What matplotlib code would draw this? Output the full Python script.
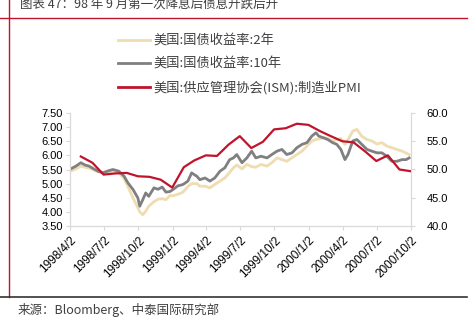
import matplotlib
matplotlib.use("Agg")
import matplotlib.pyplot as plt
from matplotlib.lines import Line2D
import pandas as pd

plt.rcParams['font.family'] = ['Liberation Sans', 'Noto Sans CJK SC', 'DejaVu Sans']

# 国债收益率（约每两周读取一次）
dates = ['1998-04-05', '1998-04-18', '1998-05-01', '1998-05-12', '1998-05-23', '1998-06-05',
         '1998-06-16', '1998-06-29', '1998-07-13', '1998-07-26', '1998-08-11', '1998-08-25',
         '1998-09-04', '1998-09-18', '1998-10-01', '1998-10-06', '1998-10-14', '1998-10-22',
         '1998-10-30', '1998-11-13', '1998-11-24', '1998-12-05', '1998-12-15', '1998-12-26',
         '1999-01-03', '1999-01-16', '1999-01-30', '1999-02-12', '1999-02-22', '1999-03-08',
         '1999-03-16', '1999-03-30', '1999-04-12', '1999-04-25', '1999-05-09', '1999-05-22',
         '1999-06-04', '1999-06-14', '1999-06-23', '1999-07-07', '1999-07-20', '1999-08-02',
         '1999-08-13', '1999-08-27', '1999-09-12', '1999-09-25', '1999-10-09', '1999-10-22',
         '1999-11-04', '1999-11-18', '1999-12-01', '1999-12-15', '1999-12-28', '2000-01-10',
         '2000-01-21', '2000-01-29', '2000-02-11', '2000-02-22', '2000-03-06', '2000-03-17',
         '2000-03-28', '2000-04-08', '2000-04-16', '2000-04-29', '2000-05-10', '2000-05-23',
         '2000-06-06', '2000-06-19', '2000-07-03', '2000-07-16', '2000-07-29', '2000-08-12',
         '2000-08-25', '2000-09-08', '2000-09-19', '2000-09-27']

y10 = [5.53, 5.62, 5.74, 5.66, 5.62, 5.52, 5.44, 5.38, 5.45, 5.50, 5.44, 5.26,
       5.03, 4.79, 4.49, 4.20, 4.43, 4.67, 4.55, 4.85, 4.80, 4.88, 4.70, 4.72,
       4.79, 4.92, 4.97, 5.09, 5.38, 5.26, 5.14, 5.20, 5.09, 5.20, 5.44, 5.56,
       5.85, 5.91, 6.03, 5.74, 5.91, 6.15, 5.91, 5.97, 5.91, 6.03, 6.15, 6.21,
       6.03, 6.09, 6.27, 6.39, 6.45, 6.68, 6.80, 6.68, 6.62, 6.56, 6.45, 6.39,
       6.21, 5.85, 6.03, 6.51, 6.56, 6.39, 6.21, 6.15, 6.09, 6.09, 5.97, 5.79,
       5.79, 5.85, 5.85, 5.91]

y2 = [5.45, 5.52, 5.62, 5.58, 5.55, 5.48, 5.42, 5.40, 5.42, 5.44, 5.38, 5.18,
      4.90, 4.49, 4.14, 4.00, 3.90, 4.02, 4.20, 4.36, 4.45, 4.47, 4.43, 4.58,
      4.57, 4.62, 4.70, 4.90, 5.00, 5.00, 4.91, 4.91, 4.85, 4.97, 5.09, 5.20,
      5.40, 5.56, 5.66, 5.52, 5.68, 5.60, 5.58, 5.68, 5.62, 5.74, 5.91, 5.85,
      5.79, 5.91, 6.03, 6.15, 6.33, 6.51, 6.56, 6.58, 6.62, 6.60, 6.50, 6.56,
      6.60, 6.39, 6.55, 6.86, 6.92, 6.68, 6.56, 6.51, 6.40, 6.45, 6.33, 6.27,
      6.21, 6.15, 6.08, 6.03]

# ISM 制造业PMI（月度）
pmi_dates = pd.date_range('1998-05-01', '2000-10-01', freq='MS')
pmi = [52.3, 51.2, 49.1, 49.3, 49.4, 48.8, 48.7, 48.2,
       46.8, 50.4, 51.6, 52.5, 52.4, 54.4, 55.9, 53.8, 54.9, 57.1, 57.3, 58.1,
       57.9, 56.8, 55.9, 55.0, 54.8, 53.2, 51.5, 52.5, 50.0, 49.7]

tick_dates = ['1998-04-02', '1998-07-02', '1998-10-02', '1999-01-02', '1999-04-02', '1999-07-02',
              '1999-10-02', '2000-01-02', '2000-04-02', '2000-07-02', '2000-10-02']
tick_labels = ['1998/4/2', '1998/7/2', '1998/10/2', '1999/1/2', '1999/4/2', '1999/7/2',
               '1999/10/2', '2000/1/2', '2000/4/2', '2000/7/2', '2000/10/2']

labels = ['美国:国债收益率:2年', '美国:国债收益率:10年', '美国:供应管理协会(ISM):制造业PMI']

c2 = '#efdcb0'
c10 = '#808080'
cred = '#c0142c'
gridc = '#d9d9d9'
txt = '#404040'

W, H = 477, 323
fig = plt.figure(figsize=(4.77, 3.23), dpi=100)
ax = fig.add_axes([70 / W, 1 - 226 / H, 341 / W, 113 / H])
ax2 = ax.twinx()

d = pd.to_datetime(dates)
ax.plot(d, y2, color=c2, lw=2.0)
ax.plot(d, y10, color=c10, lw=2.0)
ax2.plot(pmi_dates, pmi, color=cred, lw=1.6)

ax.set_ylim(3.5, 7.5)
ax.set_yticks([3.5 + 0.5 * i for i in range(9)])
ax.set_yticklabels([f'{3.5 + 0.5 * i:.2f}' for i in range(9)])
ax2.set_ylim(40, 60)
ax2.set_yticks([40, 45, 50, 55, 60])
ax2.set_yticklabels([f'{v:.1f}' for v in [40, 45, 50, 55, 60]])

ax.set_xlim(pd.Timestamp('1998-04-02'), pd.Timestamp('2000-10-02'))
ax.set_xticks(pd.to_datetime(tick_dates))
ax.set_xticklabels(tick_labels, rotation=45, ha='right', rotation_mode='anchor')

for a in (ax, ax2):
    for s in a.spines.values():
        s.set_color(gridc)
    a.spines['top'].set_visible(False)
    a.tick_params(colors=gridc, labelcolor='black', labelsize=8, length=3, width=0.8)
ax.tick_params(axis='y', pad=2)
ax2.tick_params(axis='y', pad=8)
ax.tick_params(axis='x', pad=3, labelsize=8.5)

# 图例
handles = [Line2D([], [], color=c2, lw=2), Line2D([], [], color=c10, lw=2), Line2D([], [], color=cred, lw=2)]
fig.legend(handles, labels, loc='upper left', bbox_to_anchor=(118 / W, 1 - 35 / H),
           frameon=False, prop={'family': ['Noto Sans CJK SC'], 'size': 9.5},
           handlelength=2.4, handletextpad=0.25, labelspacing=0.75,
           borderpad=0, borderaxespad=0, labelcolor=txt)

# 标题与来源
fig.text(20 / W, 1 - 4 / H, '图表 47：98 年 9 月第一次降息后债息升跌后升', fontsize=9,
         color=txt, va='center', ha='left', family=['Noto Sans CJK SC'])
fig.text(18 / W, 1 - 310 / H, '来源：Bloomberg、中泰国际研究部', fontsize=9,
         color=txt, va='center', ha='left', family=['Noto Sans CJK SC'])

fig.add_artist(Line2D([0, 467 / W], [1 - 18 / H] * 2, color=cred, lw=1))
fig.add_artist(Line2D([9 / W] * 2, [1, 1 - 297 / H], color=cred, lw=1))
fig.add_artist(Line2D([0, 467 / W], [1 - 297 / H] * 2, color='#333333', lw=1.2))

fig.savefig('out.png', dpi=100)
